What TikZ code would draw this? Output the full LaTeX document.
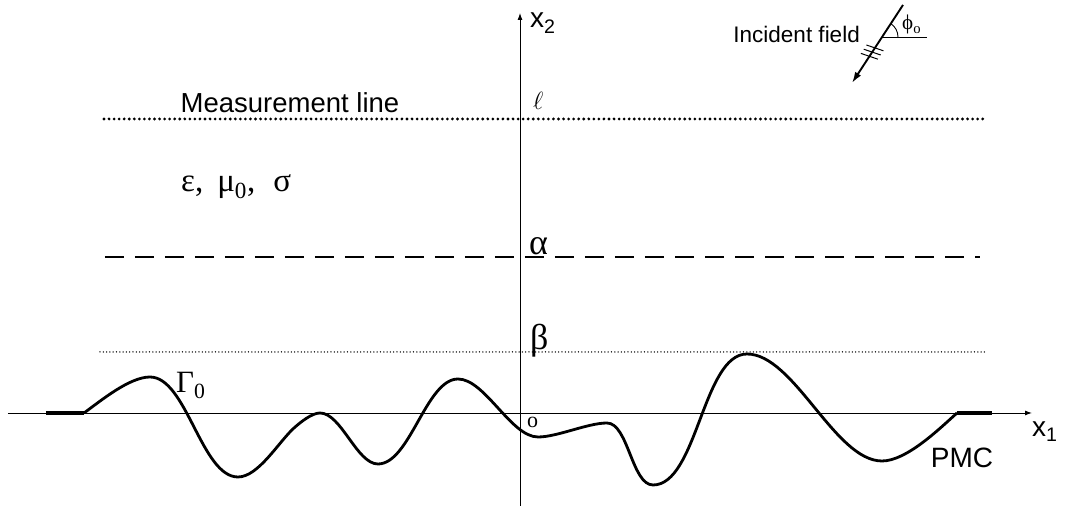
\documentclass[tikz,border=0pt]{standalone}
\usepackage{fontspec}
\setmainfont{Liberation Sans}
\newfontfamily\gregas{Liberation Serif}
\usetikzlibrary{arrows.meta}

\begin{document}
\begin{tikzpicture}[x=1pt, y=1pt]

  % ── Estilos do esquema ───────────────────────────────────────
  \tikzset{
    eixo/.style = {draw, line width=0.9pt, -{Latex[length=7pt, width=5pt]}},
    medicao/.style = {line width=3.1pt, line cap=round, dash pattern=on 0pt off 5.05pt},
    tracejada/.style = {line width=2.6pt, dash pattern=on 19pt off 11pt},
    pontilhada/.style = {line width=1.5pt, line cap=round, dash pattern=on 0pt off 3.3pt},
    fronteira/.style = {line width=2.8pt, line join=round, looseness=0.7},
    trechoplano/.style = {line width=3.6pt},
    incidente/.style = {line width=1.9pt, -{Latex[length=11pt, width=7pt]}},
    texto/.style = {inner sep=0pt, font=\fontsize{27.5}{31}\selectfont},
    grego/.style = {inner sep=0pt, font=\gregas\fontsize{36}{40}\selectfont}
  }

  % Margens da figura
  \useasboundingbox (-520,-97) rectangle (546,413);

  % =========================================================
  % 1. EIXOS
  % =========================================================
  \coordinate (O) at (0,0);
  \coordinate (x1ini) at (-512,0);
  \coordinate (x1fim) at (512,0);
  \coordinate (x2ini) at (0,-93);
  \coordinate (x2fim) at (0,400);
  \draw[eixo] (x1ini) -- (x1fim);
  \draw[eixo] (x2ini) -- (x2fim);

  \node[texto, anchor=base west, font=\fontsize{28}{30}\selectfont] (rx1) at (512,-24) {x\textsubscript{1}};
  \node[texto, anchor=base west, font=\fontsize{28}{30}\selectfont] (rx2) at (10,385) {x\textsubscript{2}};
  \node[grego, anchor=base west, font=\gregas\fontsize{22}{26}\selectfont] (ro) at (7,-15) {o};

  % =========================================================
  % 2. LINHAS HORIZONTAIS (medicao, alfa, beta)
  % =========================================================
  \draw[medicao] (-416,294) -- (465,294);
  \draw[tracejada] (-415,156) -- (460,156);
  \draw[pontilhada] (-420,61) -- (465,61);

  \node[texto, anchor=base] (rmedicao) at (-230,300) {Measurement line};
  \node[anchor=base west, inner sep=0pt, font=\fontsize{25}{28}\selectfont] (rell) at (13,303) {$\ell$};
  \node[grego, anchor=base west] (ralfa) at (9,158) {α};
  \node[grego, anchor=base west] (rbeta) at (10,63) {β};

  % Parametros do meio
  \node[grego, anchor=base west, font=\gregas\fontsize{33}{36}\selectfont] (rmeio) at (-339,221)
    {ε,\hspace{14pt}μ\textsubscript{0},\hspace{18pt}σ};

  % =========================================================
  % 3. FRONTEIRA (curva Gamma_0)
  % =========================================================
  \draw[trechoplano] (-474,0) -- (-436,0);
  \draw[trechoplano] (437,0) -- (472,0);
  \draw[fronteira]
    (-436,0) to[out=36, in=180] (-370,36)
    to[out=0, in=180] (-282,-64)
    to[out=0, in=222] (-226,-15)
    to[out=42, in=180] (-200,0)
    to[out=0, in=180] (-142,-51)
    to[out=0, in=180] (-62,34)
    to[out=0, in=180] (18,-24)
    to[out=0, in=180] (87,-10)
    to[out=0, in=180] (133,-72)
    to[out=0, in=180] (227,59)
    to[out=0, in=180] (362,-48)
    to[out=0, in=222] (437,0);

  \node[grego, anchor=base west, font=\gregas\fontsize{31}{34}\selectfont] (rgama) at (-344,20) {Γ\textsubscript{0}};
  \node[texto, anchor=base, font=\fontsize{28}{32}\selectfont] (rpmc) at (442,-55) {PMC};

  % =========================================================
  % 4. CAMPO INCIDENTE
  % =========================================================
  \coordinate (incid) at (362,376);
  \coordinate (incsup) at (383,408);
  \coordinate (incinf) at (332,330);
  \coordinate (incref) at (407,376);
  \draw[incidente] (incsup) -- (incinf);
  \draw[line width=0.9pt] (incid) -- (incref);
  \draw[line width=0.9pt] (incid) ++(16,0) arc[start angle=0, end angle=57, radius=16];

  % Marcas de frente de onda
  \draw[line width=1pt] (346.4,368.0) -- (363.4,362.2);
  \draw[line width=1pt] (343.7,363.8) -- (360.7,358.0);
  \draw[line width=1pt] (340.9,359.6) -- (357.9,353.8);

  \node[texto, anchor=base east, font=\fontsize{22.5}{26}\selectfont] (rincid) at (340,370) {Incident field};
  \node[grego, anchor=base west, font=\gregas\fontsize{21}{24}\selectfont] (rphi) at (382,383) {ϕ\textsubscript{o}};

\end{tikzpicture}
\end{document}
